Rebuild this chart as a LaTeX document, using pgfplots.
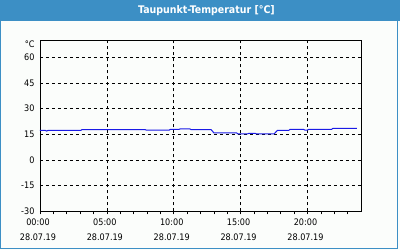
\documentclass[border=0pt]{standalone}
\usepackage{pgfplots}
\pgfplotsset{compat=1.18}
\usetikzlibrary{backgrounds,calc}
\usepackage{fontspec}
\setmainfont{DejaVu Sans Condensed}
\definecolor{titlebar}{HTML}{3C8FC5}
\definecolor{bgc}{HTML}{FBFDFB}
\definecolor{linec}{HTML}{1A1AE6}
\begin{document}
\begin{tikzpicture}
\begin{axis}[
  name=ax, scale only axis,
  width=321pt, height=171pt,
  xmin=0, xmax=24, ymin=-30, ymax=70,
  axis line style={black, line width=0.9pt},
  xtick={0,5,10,15,20},
  xticklabels={{00:00\\28.07.19},{05:00\\28.07.19},{10:00\\28.07.19},{15:00\\28.07.19},{20:00\\28.07.19}},
  minor xtick={1,2,3,4,6,7,8,9,11,12,13,14,16,17,18,19,21,22,23},
  ytick={-30,-15,0,15,30,45,60},
  tick align=outside,
  major tick length=3pt, minor tick length=3pt,
  x tick style={black, line width=0.7pt},
  y tick style={draw=none},
  xtick pos=bottom, ytick pos=left,
  xmajorgrids, ymajorgrids,
  grid style={black, dashed, line width=0.7pt, dash pattern=on 3pt off 3pt},
  minor grid style={draw=none},
  tick label style={font=\fontsize{9}{15}\selectfont},
  xticklabel style={align=center, xshift=-2pt, yshift=-1pt},
  yticklabel style={anchor=east, xshift=1pt},
  /pgf/number format/assume math mode=true,
  clip=false,
]
\addplot[linec, line width=1pt] coordinates {
(0,17.3) (0.4,17.3) (0.5,16.9) (0.6,17.3) (3.05,17.3) (3.15,17.8) (7.85,17.8) (7.95,17.4)
(9.65,17.4) (9.75,17.9) (10.4,17.9) (10.5,18.2) (11.2,18.2) (11.3,17.7) (12.8,17.7) (13.0,15.8)
(14.7,15.8) (14.8,15.2) (15.5,15.2) (15.6,15.5) (16.1,15.5) (16.2,15.2) (17.5,15.2) (17.75,17.3)
(18.6,17.3) (18.7,17.9) (19.7,17.9) (19.8,17.5) (20.0,17.5) (20.1,17.9) (21.8,17.9) (21.9,18.5)
(23.7,18.5)
};
\node[anchor=east, font=\fontsize{9}{10}\selectfont] at (rel axis cs:0,1) [xshift=-2pt, yshift=-4pt] {°C};
\end{axis}
\begin{scope}[on background layer]
\coordinate (O) at ($(ax.south west)+(-40pt,-39pt)$);
\fill[bgc] (O) rectangle ++(400pt,250pt);
\fill[titlebar] ($(O)+(0pt,229pt)$) rectangle ++(400pt,21pt);
\draw[titlebar, line width=1.5pt] ($(O)+(0.75pt,2pt)$) rectangle ($(O)+(397.7pt,249.5pt)$);
\end{scope}
\node[text=white, font=\bfseries\fontsize{10.5}{12}\selectfont] at ($(O)+(206.5pt,240pt)$) {Taupunkt-Temperatur [°C]};
\end{tikzpicture}
\end{document}
